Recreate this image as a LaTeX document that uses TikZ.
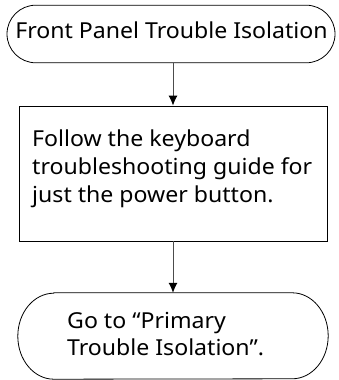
\documentclass[tikz,border=0pt]{standalone}
\usepackage{fontspec}
\setmainfont[FakeStretch=1.05]{Noto Sans}
\usetikzlibrary{arrows.meta}
\begin{document}
\begin{tikzpicture}[x=1pt,y=1pt,
  lbl/.style={font=\fontsize{22}{28}\selectfont, inner sep=0pt, align=left},
  conn/.style={draw=black!70, line width=0.9pt, -{Latex[length=10pt,width=9pt,black]}},
  outl/.style={draw=black, line width=0.8pt}]
\useasboundingbox (0,0) rectangle (338,380);
% top terminal
\node[outl, rounded corners=28.8pt, minimum width=328pt, minimum height=57.6pt, inner sep=0pt] (t1) at (171,346)
  {};
\node[lbl, anchor=base] (t1txt) at (171.5,341) {Front Panel Trouble Isolation};
% process box
\node[outl, minimum width=308pt, minimum height=135pt, inner sep=0pt] (box) at (173,206.5) {};
\node[lbl, anchor=base west] (boxtxt) at (32,177) {Follow the keyboard\\troubleshooting guide for\\just the power button.};
% bottom terminal
\node[minimum width=310pt, minimum height=86pt, inner sep=0pt] (t2) at (173,44) {};
\draw[outl] ([xshift=36pt]t2.north west) -- ([xshift=-36pt]t2.north east)
  arc[start angle=90, end angle=-90, x radius=36pt, y radius=43pt]
  -- ([xshift=36pt]t2.south west)
  arc[start angle=270, end angle=90, x radius=36pt, y radius=43pt] -- cycle;
\node[lbl, anchor=base west, font=\fontsize{22}{27}\selectfont] (t2txt) at (67,24) {Go to “Primary\\Trouble Isolation”.};
% connectors
\draw[conn] (t1.south -| box.north) -- (box.north);
\draw[conn] (box.south) -- (t2.north);
\end{tikzpicture}
\end{document}
